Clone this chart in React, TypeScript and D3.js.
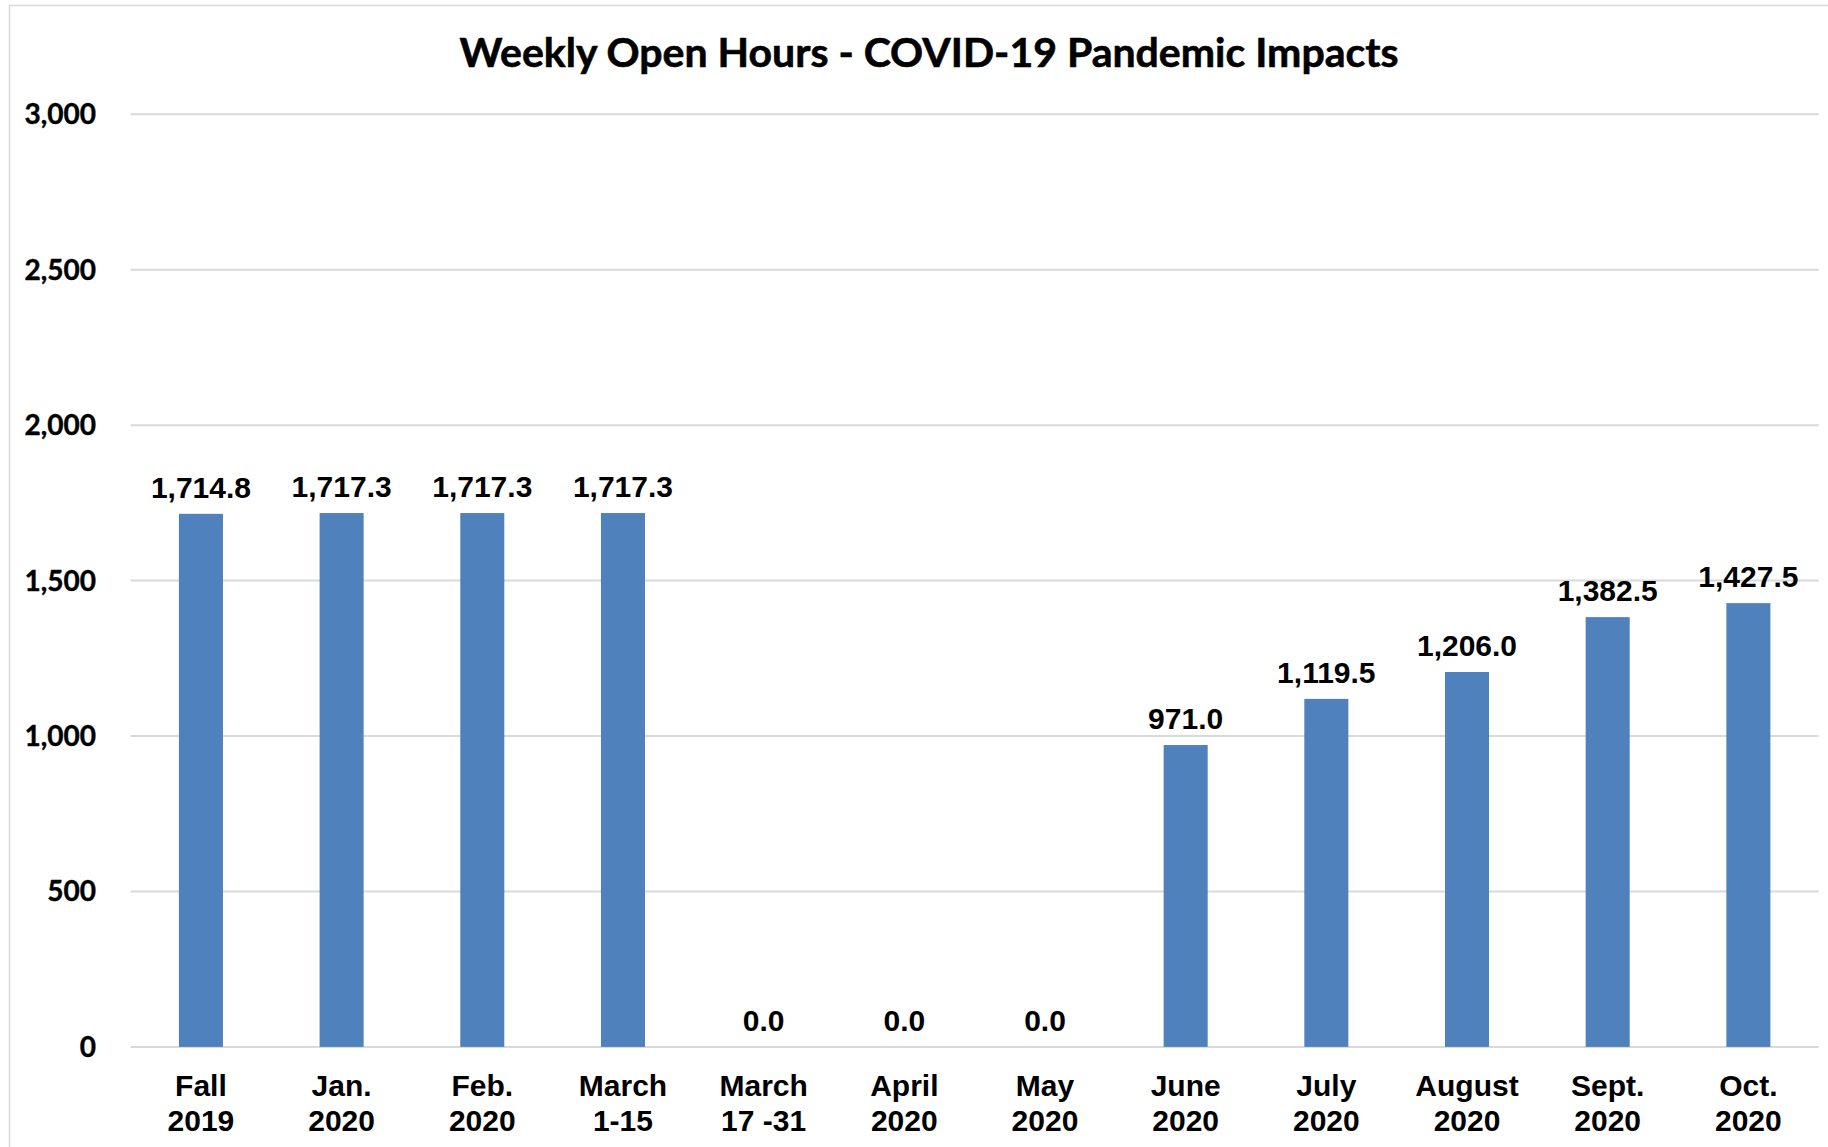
import React from "react";
import * as d3 from "d3";

const categories: string[][] = [
  ["Fall", "2019"], ["Jan.", "2020"], ["Feb.", "2020"], ["March", "1-15"],
  ["March", "17 -31"], ["April", "2020"], ["May", "2020"], ["June", "2020"],
  ["July", "2020"], ["August", "2020"], ["Sept.", "2020"], ["Oct.", "2020"],
];
const hours: number[] = [1714.8, 1717.3, 1717.3, 1717.3, 0, 0, 0, 971.0, 1119.5, 1206.0, 1382.5, 1427.5];
const yTicks: number[] = [0, 500, 1000, 1500, 2000, 2500, 3000];
const title = "Weekly Open Hours - COVID-19 Pandemic Impacts";

const W = 1828, H = 1147;
const left = 130.6, right = 1818.7, top = 114.3, bottom = 1046.9;

export default function App() {
  const keys = categories.map((_, i) => String(i));
  const x = d3.scaleBand<string>().domain(keys).range([left, right]).paddingInner(0.687).paddingOuter(0.3435);
  const y = d3.scaleLinear().domain([0, 3000]).range([bottom, top]);
  const fmtY = d3.format(",");
  const fmtV = d3.format(",.1f");
  return (
    <svg width={W} height={H} style={{ position: "absolute", left: 0, top: 0, background: "#fff" }}>
      <rect x={9.5} y={5.5} width={W + 20} height={H + 20} fill="#fff" stroke="#d9d9d9" strokeWidth={1.5} />
      <text x={929} y={67} textAnchor="middle" fontFamily="Lato, 'Open Sans', sans-serif" fontWeight={700} fontSize={41} fill="#000" stroke="#000" strokeWidth={0.6}>{title}</text>
      {yTicks.map(t => (
        <g key={t}>
          <line x1={left} x2={right} y1={y(t)} y2={y(t)} stroke="#d9d9d9" strokeWidth={2} />
          <text x={96} y={y(t) + 10} textAnchor="end" fontFamily="Lato, sans-serif" fontWeight={700} fontSize={28} fill="#000" stroke="#000" strokeWidth={0.4}>{fmtY(t)}</text>
        </g>
      ))}
      {hours.map((v, i) => (
        <g key={i}>
          <rect x={x(String(i))} y={y(v)} width={x.bandwidth()} height={bottom - y(v)} fill="#4F81BD" />
          <text x={(x(String(i)) as number) + x.bandwidth() / 2} y={y(v) - 16} textAnchor="middle" fontFamily="'Liberation Sans', Arial, sans-serif" fontWeight={700} fontSize={30} fill="#000">{fmtV(v)}</text>
          {categories[i].map((ln, j) => (
            <text key={j} x={(x(String(i)) as number) + x.bandwidth() / 2} y={1096 + j * 35} textAnchor="middle" fontFamily="'Liberation Sans', Arial, sans-serif" fontWeight={700} fontSize={30} fill="#000">{ln}</text>
          ))}
        </g>
      ))}
    </svg>
  );
}
